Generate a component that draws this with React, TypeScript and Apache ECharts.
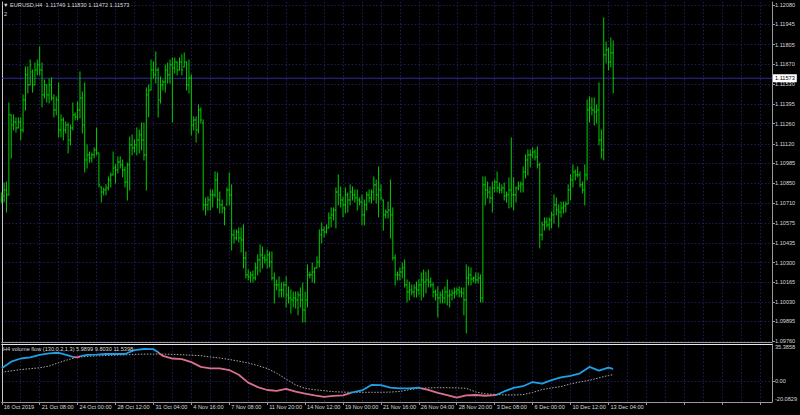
import React, { useEffect, useRef } from 'react';
import * as echarts from 'echarts';

const symbolName = 'EURUSD,H4';
const flowTitle = 'H4 volume flow (130,0.2,1,3)';
const flowLegend = [5.9899, 9.803, 11.5398];

const tickLabels = ['16 Oct 2019', '21 Oct 08:00', '24 Oct 00:00', '28 Oct 12:00', '31 Oct 04:00', '4 Nov 16:00', '7 Nov 08:00', '11 Nov 20:00', '14 Nov 12:00', '19 Nov 00:00', '21 Nov 16:00', '26 Nov 04:00', '28 Nov 20:00', '3 Dec 08:00', '6 Dec 00:00', '10 Dec 12:00', '13 Dec 04:00'];

const priceTicks = [1.0976, 1.09895, 1.1003, 1.10165, 1.103, 1.10435, 1.10575, 1.1071, 1.1085, 1.10985, 1.1112, 1.1126, 1.11395, 1.1153, 1.1167, 1.11805, 1.11945, 1.1208];
const flowTicks = [-20.0829, 0, 35.3858];

const openPrices = [
  1.10733, 1.10761, 1.10802, 1.10768, 1.11320, 1.11250, 1.11271, 1.11230, 1.11271, 1.11216,
  1.11423, 1.11596, 1.11527, 1.11616, 1.11527, 1.11630, 1.11665, 1.11630, 1.11458, 1.11527,
  1.11458, 1.11527, 1.11437, 1.11354, 1.11423, 1.11216, 1.11285, 1.11216, 1.11250, 1.11147,
  1.11230, 1.11320, 1.11306, 1.11354, 1.11437, 1.11250, 1.11009, 1.11044, 1.11023, 1.11044,
  1.11078, 1.11057, 1.10823, 1.10788, 1.10802, 1.10816, 1.10871, 1.10906, 1.10954, 1.10940,
  1.10995, 1.10975, 1.10940, 1.10857, 1.10975, 1.11113, 1.11092, 1.11113, 1.11147, 1.11182,
  1.11147, 1.11044, 1.11458, 1.11492, 1.11630, 1.11596, 1.11630, 1.11423, 1.11527, 1.11547,
  1.11630, 1.11596, 1.11665, 1.11644, 1.11685, 1.11630, 1.11685, 1.11651, 1.11685, 1.11527,
  1.11575, 1.11250, 1.11285, 1.11216, 1.11354, 1.11264, 1.10699, 1.10699, 1.10733, 1.10768,
  1.10768, 1.10871, 1.10733, 1.10699, 1.10678, 1.10699, 1.10802, 1.10768, 1.10492, 1.10471,
  1.10512, 1.10471, 1.10457, 1.10333, 1.10216, 1.10202, 1.10216, 1.10195, 1.10264, 1.10319,
  1.10354, 1.10333, 1.10319, 1.10354, 1.10305, 1.10195, 1.10147, 1.10147, 1.10112, 1.10112,
  1.10147, 1.10078, 1.10057, 1.10043, 1.10057, 1.10043, 1.10078, 1.10043, 1.09974, 1.10043,
  1.10216, 1.10216, 1.10236, 1.10264, 1.10305, 1.10492, 1.10526, 1.10512, 1.10540, 1.10609,
  1.10630, 1.10664, 1.10788, 1.10768, 1.10733, 1.10699, 1.10768, 1.10733, 1.10788, 1.10768,
  1.10747, 1.10733, 1.10719, 1.10630, 1.10699, 1.10768, 1.10747, 1.10788, 1.10837, 1.10768,
  1.10802, 1.10733, 1.10630, 1.10650, 1.10664, 1.10630, 1.10333, 1.10216, 1.10216, 1.10236,
  1.10264, 1.10147, 1.10098, 1.10112, 1.10098, 1.10126, 1.10112, 1.10147, 1.10181, 1.10167,
  1.10181, 1.10167, 1.10147, 1.10098, 1.10078, 1.10057, 1.10078, 1.10057, 1.10098, 1.10071,
  1.10078, 1.10091, 1.10098, 1.10112, 1.10098, 1.10091, 1.10043, 1.10195, 1.10216, 1.10188,
  1.10195, 1.10181, 1.10195, 1.10057, 1.10837, 1.10802, 1.10788, 1.10747, 1.10816, 1.10857,
  1.10816, 1.10802, 1.10816, 1.10761, 1.10768, 1.10802, 1.10768, 1.10768, 1.10816, 1.10830,
  1.10843, 1.10926, 1.11009, 1.11044, 1.11044, 1.11064, 1.11030, 1.10975, 1.10492, 1.10561,
  1.10581, 1.10561, 1.10595, 1.10630, 1.10699, 1.10664, 1.10650, 1.10678, 1.10692, 1.10705,
  1.10802, 1.10871, 1.10926, 1.10906, 1.10906, 1.10837, 1.10802, 1.10906, 1.11354, 1.11368,
  1.11354, 1.11340, 1.11354, 1.11147, 1.11078, 1.11734, 1.11768, 1.11685, 1.11749,
];
const highPrices = [
  1.10781, 1.10850, 1.10857, 1.11402, 1.11320, 1.11320, 1.11299, 1.11299, 1.11299, 1.11458,
  1.11651, 1.11651, 1.11699, 1.11630, 1.11678, 1.11699, 1.11789, 1.11678, 1.11561, 1.11527,
  1.11568, 1.11575, 1.11458, 1.11444, 1.11540, 1.11320, 1.11299, 1.11271, 1.11264, 1.11250,
  1.11402, 1.11333, 1.11409, 1.11616, 1.11478, 1.11540, 1.11113, 1.11064, 1.11057, 1.11092,
  1.11230, 1.11057, 1.10823, 1.10816, 1.10837, 1.10892, 1.10919, 1.11064, 1.10975, 1.11030,
  1.11030, 1.11009, 1.10961, 1.10988, 1.11168, 1.11182, 1.11147, 1.11230, 1.11216, 1.11264,
  1.11264, 1.11506, 1.11527, 1.11699, 1.11685, 1.11754, 1.11644, 1.11582, 1.11561, 1.11665,
  1.11678, 1.11699, 1.11713, 1.11713, 1.11685, 1.11713, 1.11734, 1.11747, 1.11685, 1.11699,
  1.11596, 1.11306, 1.11306, 1.11389, 1.11368, 1.11285, 1.10747, 1.10754, 1.10802, 1.10802,
  1.10926, 1.10919, 1.10788, 1.10733, 1.10685, 1.10816, 1.10919, 1.10837, 1.10526, 1.10526,
  1.10540, 1.10540, 1.10561, 1.10374, 1.10250, 1.10236, 1.10243, 1.10298, 1.10354, 1.10423,
  1.10409, 1.10354, 1.10388, 1.10374, 1.10374, 1.10229, 1.10181, 1.10202, 1.10160, 1.10167,
  1.10202, 1.10133, 1.10112, 1.10098, 1.10098, 1.10098, 1.10126, 1.10160, 1.10098, 1.10285,
  1.10236, 1.10298, 1.10264, 1.10340, 1.10526, 1.10574, 1.10547, 1.10561, 1.10643, 1.10678,
  1.10678, 1.10816, 1.10906, 1.10823, 1.10754, 1.10816, 1.10781, 1.10837, 1.10823, 1.10802,
  1.10802, 1.10747, 1.10768, 1.10733, 1.10788, 1.10802, 1.10802, 1.10892, 1.10871, 1.10961,
  1.10837, 1.10733, 1.10664, 1.10719, 1.10871, 1.10678, 1.10354, 1.10236, 1.10264, 1.10298,
  1.10319, 1.10181, 1.10167, 1.10147, 1.10147, 1.10167, 1.10181, 1.10229, 1.10250, 1.10236,
  1.10250, 1.10195, 1.10160, 1.10112, 1.10133, 1.10098, 1.10112, 1.10133, 1.10181, 1.10112,
  1.10112, 1.10126, 1.10126, 1.10133, 1.10126, 1.10126, 1.10285, 1.10271, 1.10264, 1.10202,
  1.10229, 1.10229, 1.10216, 1.10892, 1.10892, 1.10857, 1.10823, 1.10857, 1.10871, 1.10926,
  1.10850, 1.10837, 1.10850, 1.10788, 1.10885, 1.11161, 1.10885, 1.10823, 1.10857, 1.10857,
  1.10961, 1.11044, 1.11078, 1.11078, 1.11092, 1.11078, 1.11099, 1.10988, 1.10581, 1.10609,
  1.10609, 1.10609, 1.10650, 1.10768, 1.10747, 1.10699, 1.10719, 1.10719, 1.10719, 1.10837,
  1.10906, 1.10975, 1.10940, 1.10961, 1.10926, 1.10857, 1.10975, 1.11423, 1.11444, 1.11437,
  1.11437, 1.11389, 1.11540, 1.11216, 1.11989, 1.11823, 1.11782, 1.11851, 1.11830,
];
const lowPrices = [
  1.10712, 1.10719, 1.10650, 1.10768, 1.11023, 1.11216, 1.11202, 1.11230, 1.11147, 1.11202,
  1.11354, 1.11471, 1.11527, 1.11478, 1.11527, 1.11596, 1.11596, 1.11375, 1.11437, 1.11409,
  1.11402, 1.11423, 1.11306, 1.11320, 1.11168, 1.11168, 1.11147, 1.11195, 1.11057, 1.11113,
  1.11216, 1.11285, 1.11285, 1.11299, 1.11195, 1.10926, 1.10954, 1.10995, 1.10995, 1.11023,
  1.11044, 1.10823, 1.10719, 1.10768, 1.10768, 1.10802, 1.10823, 1.10906, 1.10850, 1.10919,
  1.10954, 1.10892, 1.10823, 1.10733, 1.10802, 1.11044, 1.11064, 1.11044, 1.11057, 1.11078,
  1.11009, 1.10802, 1.11306, 1.11492, 1.11575, 1.11540, 1.11306, 1.11402, 1.11492, 1.11478,
  1.11540, 1.11540, 1.11271, 1.11609, 1.11596, 1.11630, 1.11596, 1.11651, 1.11492, 1.11471,
  1.11182, 1.11216, 1.11133, 1.11195, 1.11264, 1.10664, 1.10630, 1.10664, 1.10664, 1.10685,
  1.10754, 1.10678, 1.10643, 1.10643, 1.10561, 1.10699, 1.10699, 1.10388, 1.10436, 1.10457,
  1.10443, 1.10374, 1.10264, 1.10195, 1.10181, 1.10167, 1.10167, 1.10181, 1.10216, 1.10236,
  1.10264, 1.10298, 1.10264, 1.10271, 1.10181, 1.10022, 1.10112, 1.10064, 1.10064, 1.10064,
  1.09995, 1.10022, 1.09953, 1.09995, 1.09988, 1.09940, 1.09995, 1.09891, 1.09891, 1.09995,
  1.10195, 1.10167, 1.10160, 1.10264, 1.10271, 1.10436, 1.10478, 1.10505, 1.10540, 1.10547,
  1.10595, 1.10540, 1.10699, 1.10685, 1.10616, 1.10643, 1.10650, 1.10699, 1.10733, 1.10719,
  1.10664, 1.10699, 1.10561, 1.10561, 1.10664, 1.10719, 1.10712, 1.10733, 1.10712, 1.10616,
  1.10733, 1.10526, 1.10609, 1.10609, 1.10471, 1.10319, 1.10147, 1.10181, 1.10181, 1.10195,
  1.10133, 1.10029, 1.10043, 1.10078, 1.10064, 1.10064, 1.10078, 1.10043, 1.10064, 1.10091,
  1.10133, 1.10133, 1.10064, 1.10043, 1.09926, 1.10022, 1.10022, 1.10022, 1.10009, 1.09995,
  1.10043, 1.10057, 1.10078, 1.10064, 1.10064, 1.09940, 1.09815, 1.10147, 1.10147, 1.10167,
  1.10160, 1.10160, 1.10029, 1.10029, 1.10699, 1.10747, 1.10712, 1.10650, 1.10788, 1.10788,
  1.10781, 1.10781, 1.10733, 1.10719, 1.10678, 1.10685, 1.10664, 1.10719, 1.10802, 1.10788,
  1.10788, 1.10885, 1.10906, 1.10961, 1.11023, 1.11009, 1.10954, 1.10402, 1.10457, 1.10526,
  1.10547, 1.10526, 1.10540, 1.10574, 1.10630, 1.10547, 1.10616, 1.10643, 1.10650, 1.10705,
  1.10733, 1.10823, 1.10871, 1.10892, 1.10823, 1.10781, 1.10699, 1.10871, 1.11271, 1.11320,
  1.11250, 1.11264, 1.11113, 1.11023, 1.11009, 1.11678, 1.11630, 1.11651, 1.11472,
];
const closePrices = [
  1.10761, 1.10802, 1.10768, 1.11320, 1.11250, 1.11271, 1.11230, 1.11271, 1.11216, 1.11423,
  1.11596, 1.11527, 1.11665, 1.11527, 1.11630, 1.11665, 1.11630, 1.11458, 1.11527, 1.11458,
  1.11527, 1.11437, 1.11354, 1.11423, 1.11216, 1.11285, 1.11216, 1.11250, 1.11147, 1.11230,
  1.11320, 1.11306, 1.11354, 1.11437, 1.11250, 1.11009, 1.11044, 1.11023, 1.11044, 1.11078,
  1.11057, 1.10837, 1.10788, 1.10802, 1.10816, 1.10871, 1.10906, 1.10954, 1.10940, 1.10995,
  1.10975, 1.10940, 1.10857, 1.10975, 1.11113, 1.11092, 1.11113, 1.11147, 1.11182, 1.11147,
  1.11044, 1.11458, 1.11492, 1.11630, 1.11596, 1.11630, 1.11423, 1.11527, 1.11547, 1.11630,
  1.11596, 1.11665, 1.11644, 1.11685, 1.11630, 1.11685, 1.11630, 1.11685, 1.11527, 1.11575,
  1.11250, 1.11285, 1.11216, 1.11354, 1.11285, 1.10699, 1.10699, 1.10733, 1.10768, 1.10768,
  1.10871, 1.10733, 1.10699, 1.10678, 1.10671, 1.10802, 1.10768, 1.10492, 1.10471, 1.10512,
  1.10471, 1.10457, 1.10333, 1.10216, 1.10202, 1.10216, 1.10195, 1.10264, 1.10319, 1.10354,
  1.10333, 1.10319, 1.10354, 1.10305, 1.10195, 1.10147, 1.10147, 1.10112, 1.10112, 1.10147,
  1.10078, 1.10057, 1.10043, 1.10057, 1.10043, 1.10078, 1.10043, 1.09974, 1.10043, 1.10216,
  1.10216, 1.10236, 1.10264, 1.10305, 1.10492, 1.10526, 1.10512, 1.10540, 1.10609, 1.10630,
  1.10664, 1.10788, 1.10768, 1.10733, 1.10699, 1.10768, 1.10733, 1.10788, 1.10768, 1.10747,
  1.10733, 1.10719, 1.10630, 1.10699, 1.10768, 1.10747, 1.10788, 1.10837, 1.10768, 1.10802,
  1.10747, 1.10630, 1.10650, 1.10664, 1.10630, 1.10333, 1.10216, 1.10216, 1.10236, 1.10264,
  1.10147, 1.10098, 1.10112, 1.10098, 1.10126, 1.10112, 1.10147, 1.10181, 1.10167, 1.10181,
  1.10167, 1.10147, 1.10098, 1.10078, 1.10057, 1.10078, 1.10057, 1.10098, 1.10071, 1.10078,
  1.10091, 1.10098, 1.10112, 1.10098, 1.10091, 1.10043, 1.10195, 1.10216, 1.10188, 1.10195,
  1.10181, 1.10195, 1.10057, 1.10837, 1.10802, 1.10788, 1.10747, 1.10816, 1.10857, 1.10816,
  1.10802, 1.10816, 1.10761, 1.10768, 1.10802, 1.10768, 1.10768, 1.10816, 1.10830, 1.10843,
  1.10926, 1.11009, 1.11044, 1.11044, 1.11064, 1.11030, 1.10975, 1.10492, 1.10561, 1.10581,
  1.10561, 1.10595, 1.10630, 1.10699, 1.10664, 1.10650, 1.10678, 1.10692, 1.10705, 1.10802,
  1.10871, 1.10926, 1.10906, 1.10906, 1.10837, 1.10802, 1.10906, 1.11354, 1.11368, 1.11354,
  1.11340, 1.11354, 1.11147, 1.11078, 1.11734, 1.11768, 1.11685, 1.11747, 1.11573,
];

// volume flow indicator, sampled at bar indices
const flowBars = [0, 4, 8, 12, 16, 20, 24, 28, 30, 32, 33, 36, 40, 44, 48, 52, 56, 60, 64, 66, 68, 72, 76, 80, 84, 88, 92, 96, 100, 104, 108, 112, 116, 120, 124, 128, 132, 136, 140, 144, 147, 148, 152, 156, 160, 164, 168, 172, 176, 177, 180, 184, 188, 192, 196, 200, 204, 208, 209, 212, 216, 220, 224, 228, 232, 236, 240, 244, 248, 252, 256, 258];
const flowMain = [12.2, 18.5, 21.5, 22.5, 25.0, 26.5, 27.0, 24.5, 23.0, 22.6, 23.5, 24.9, 25.3, 25.8, 25.8, 25.8, 29.6, 30.6, 30.4, 27.4, 24.0, 21.5, 21.0, 18.0, 13.5, 12.1, 12.1, 10.5, 6.0, -1.5, -5.8, -8.6, -9.5, -7.5, -10.2, -12.0, -13.8, -15.2, -14.3, -13.8, -11.5, -10.8, -9.0, -3.8, -4.0, -6.4, -7.0, -7.0, -6.4, -7.0, -8.5, -11.3, -13.4, -15.8, -13.8, -13.4, -14.1, -13.6, -13.0, -10.0, -6.6, -5.0, -1.0, -2.5, 0.8, 3.5, 5.0, 7.4, 13.5, 10.0, 12.8, 11.54];
const signalBars = [0, 4, 8, 12, 16, 20, 24, 28, 32, 36, 40, 44, 48, 52, 56, 60, 64, 68, 72, 76, 80, 84, 88, 92, 96, 100, 104, 108, 112, 116, 120, 124, 128, 132, 136, 140, 144, 148, 152, 156, 160, 164, 168, 172, 176, 180, 184, 188, 192, 196, 200, 204, 208, 212, 216, 220, 224, 228, 232, 236, 240, 244, 248, 252, 256, 258];
const flowSignal = [8.3, 9.7, 10.9, 11.8, 12.6, 14.3, 17.5, 20.4, 22.8, 23.5, 24.0, 24.4, 24.7, 25.0, 25.5, 25.7, 25.8, 25.7, 25.5, 25.1, 24.7, 24.2, 23.0, 22.0, 20.6, 19.0, 17.2, 14.8, 12.0, 7.5, 1.8, -3.8, -7.0, -8.3, -9.3, -10.2, -10.6, -10.8, -10.8, -10.8, -10.8, -10.6, -10.0, -8.3, -7.0, -6.6, -6.4, -6.4, -6.6, -7.0, -10.5, -12.2, -12.8, -13.3, -13.4, -13.0, -11.0, -8.2, -6.7, -5.3, -2.8, -1.0, 0.7, 3.0, 5.3, 5.99];
// bar indices where the flow line switches colour (starts blue)
const flowColorBreaks = [30, 33, 66, 147, 177, 209];

const FONT = 'Liberation Sans';
const TXT = '#d8d8d8';
const GRIDC = '#1c1c5c';
const BLUE = '#1e9fe6';
const PINK = '#d8708f';

export default function App() {
  const ref = useRef<HTMLDivElement>(null);
  useEffect(() => {
    const chart = echarts.init(ref.current!, null, { renderer: 'svg' });
    const n = Math.min(openPrices.length, highPrices.length, lowPrices.length, closePrices.length);
    const bars = [];
    for (let i = 0; i < n; i++) bars.push([i, openPrices[i], highPrices[i], lowPrices[i], closePrices[i]]);
    const last = n - 1;
    const lastClose = closePrices[last];
    const left = 1.75;
    const right = 28;
    const xMax = 325;
    const pieces: any[] = [];
    let prev = -Infinity;
    flowColorBreaks.concat([Infinity]).forEach((b, k) => {
      const p: any = { color: k % 2 === 0 ? BLUE : PINK };
      if (prev !== -Infinity) p.gte = prev;
      if (b !== Infinity) p.lt = b;
      pieces.push(p);
      prev = b;
    });
    const split = { show: true, lineStyle: { color: GRIDC, type: [1.5, 2], width: 1 } };
    const tstyle = { color: TXT, fontSize: 5.6, fontFamily: FONT, fontWeight: 'normal' as const };
    const option: any = {
      animation: false,
      backgroundColor: '#000000',
      title: [
        { text: `\u25BC ${symbolName}  ${openPrices[last].toFixed(5)} ${highPrices[last].toFixed(5)} ${lowPrices[last].toFixed(5)} ${closePrices[last].toFixed(5)}`, left: 3, top: 2, padding: 0, textStyle: tstyle },
        { text: '2', left: 4, top: 11, padding: 0, textStyle: tstyle },
        { text: `${flowTitle} ${flowLegend.map((v) => v.toFixed(4)).join(' ')}`, left: 3, top: 346, padding: 0, textStyle: tstyle },
      ],
      grid: [
        { left, right, top: 2, height: 340 },
        { left, right, top: 344, height: 58 },
      ],
      visualMap: [{ show: false, type: 'piecewise', seriesIndex: 3, dimension: 0, pieces }],
      xAxis: [
        { gridIndex: 0, type: 'value', min: 0, max: xMax, interval: 8, splitLine: split, axisLine: { show: true, onZero: false, lineStyle: { color: '#9a9a9a' } }, axisTick: { show: false }, axisLabel: { show: false } },
        { gridIndex: 1, type: 'value', min: 0, max: xMax, interval: 8, splitLine: split, axisLine: { show: true, onZero: false, lineStyle: { color: '#9a9a9a' } }, axisTick: { show: false }, axisLabel: { show: false } },
        {
          gridIndex: 1, type: 'value', min: 0, max: xMax, interval: 16, position: 'bottom', splitLine: { show: false },
          axisLine: { show: false, onZero: false }, axisTick: { show: true, length: 3, lineStyle: { color: '#9a9a9a' } },
          axisLabel: {
            show: true, align: 'left', margin: 2, padding: [0, 0, 0, 2], color: TXT, fontSize: 5.6, fontFamily: FONT, showMaxLabel: false,
            formatter: (v: number) => { const k = Math.round(v / 16); return v % 16 === 0 && k < tickLabels.length && v <= last ? tickLabels[k] : ''; },
          },
        },
        { gridIndex: 1, type: 'value', min: 0, max: xMax, position: 'top', splitLine: { show: false }, axisLine: { show: true, onZero: false, lineStyle: { color: '#e6e6e6', width: 1 } }, axisTick: { show: false }, axisLabel: { show: false } },
      ],
      yAxis: [
        {
          gridIndex: 0, type: 'value', position: 'right', min: 1.09753, max: 1.12099,
          axisLine: { show: true, onZero: false, lineStyle: { color: '#9a9a9a' } },
          axisTick: { show: true, length: 3, lineStyle: { color: '#9a9a9a' }, customValues: priceTicks },
          axisLabel: { show: true, margin: 3, color: TXT, fontSize: 5.6, fontFamily: FONT, customValues: priceTicks, formatter: (v: number) => v.toFixed(5) },
          splitLine: split,
        },
        { gridIndex: 0, type: 'value', position: 'left', min: 1.09753, max: 1.12099, axisLine: { show: true, onZero: false, lineStyle: { color: '#c8c8c8' } }, axisTick: { show: false }, axisLabel: { show: false }, splitLine: { show: false } },
        {
          gridIndex: 1, type: 'value', position: 'right', min: flowTicks[0], max: flowTicks[2],
          axisLine: { show: true, onZero: false, lineStyle: { color: '#9a9a9a' } },
          axisTick: { show: true, length: 3, lineStyle: { color: '#9a9a9a' }, customValues: [0] },
          axisLabel: {
            show: true, margin: 3, color: TXT, fontSize: 5.6, fontFamily: FONT, customValues: flowTicks,
            formatter: (v: number) => (v === 0 ? '0.00' : v > 0 ? `{t|${v.toFixed(4)}}` : `{b|${v.toFixed(4)}}`),
            rich: { t: { padding: [6, 0, 0, 0], fontSize: 5.6, color: TXT, fontFamily: FONT }, b: { padding: [0, 0, 6, 0], fontSize: 5.6, color: TXT, fontFamily: FONT } },
          },
          splitLine: split,
        },
        { gridIndex: 1, type: 'value', position: 'left', min: flowTicks[0], max: flowTicks[2], axisLine: { show: true, onZero: false, lineStyle: { color: '#c8c8c8' } }, axisTick: { show: false }, axisLabel: { show: false }, splitLine: { show: false } },
      ],
      series: [
        {
          type: 'custom', xAxisIndex: 0, yAxisIndex: 0, data: bars, encode: { x: 0, y: [1, 2, 3, 4] },
          renderItem: (params: any, api: any) => {
            const i = api.value(0);
            const pO = api.coord([i, api.value(1)]);
            const pH = api.coord([i, api.value(2)]);
            const pL = api.coord([i, api.value(3)]);
            const pC = api.coord([i, api.value(4)]);
            const x = pO[0];
            const style = { stroke: '#00cc00', lineWidth: 1 };
            return {
              type: 'group',
              children: [
                { type: 'line', shape: { x1: x, y1: pH[1] - 0.5, x2: x, y2: pL[1] + 0.5 }, style },
                { type: 'line', shape: { x1: x - 1.2, y1: pO[1], x2: x, y2: pO[1] }, style },
                { type: 'line', shape: { x1: x, y1: pC[1], x2: x + 1.2, y2: pC[1] }, style },
              ],
            };
          },
        },
        {
          // current price line across the chart, with the price box at its right end
          type: 'line', xAxisIndex: 0, yAxisIndex: 0, showSymbol: false, symbol: 'none', silent: true, z: 1,
          data: [[0, lastClose], [xMax, lastClose]],
          lineStyle: { color: '#2e2e96', type: 'solid', width: 1 },
          endLabel: { show: true, distance: 1, formatter: () => lastClose.toFixed(5), backgroundColor: '#ffffff', color: '#000000', fontSize: 5.6, fontFamily: FONT, padding: [1, 2, 1, 2] },
        },
        {
          type: 'line', xAxisIndex: 1, yAxisIndex: 2, showSymbol: false, symbol: 'none',
          data: signalBars.map((b, k) => [b, flowSignal[k]]),
          lineStyle: { color: '#a8a8a8', width: 1, type: [1.5, 1.5] },
        },
        {
          type: 'line', xAxisIndex: 1, yAxisIndex: 2, showSymbol: false, symbol: 'none',
          data: flowBars.map((b, k) => [b, flowMain[k]]),
          lineStyle: { width: 1.8 },
        },
      ],
    };
    chart.setOption(option);
    return () => chart.dispose();
  }, []);
  return <div ref={ref} style={{ position: 'fixed', left: 0, top: 0, width: 800, height: 415, background: '#000' }} />;
}
